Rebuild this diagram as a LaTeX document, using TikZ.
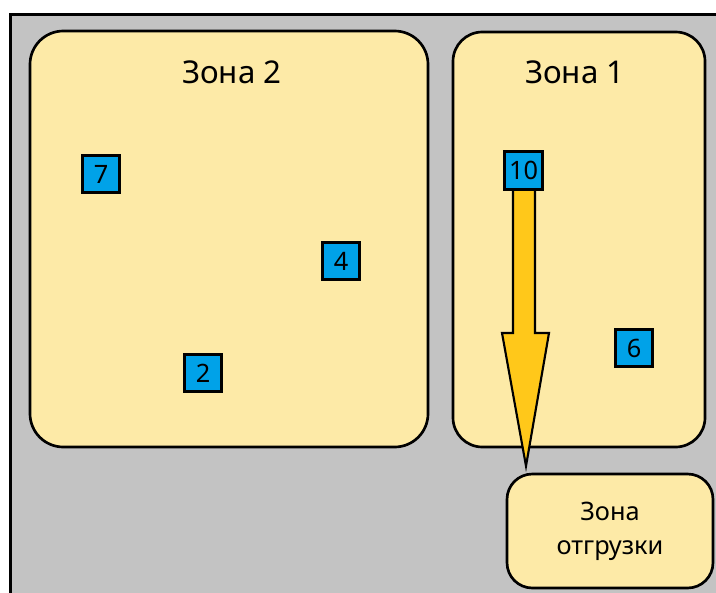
\documentclass[tikz,border=0pt]{standalone}
\usepackage{fontspec}
\setmainfont{Noto Sans}
\usetikzlibrary{calc}
\definecolor{bggray}{HTML}{C3C3C3}
\definecolor{zonefill}{HTML}{FDEAA7}
\definecolor{boxblue}{HTML}{00A2E8}
\definecolor{arrowgold}{HTML}{FFC81A}
\tikzset{
  zonebox/.style={draw=black, line width=2pt, fill=zonefill, inner sep=0pt},
  zonetitle/.style={font=\fontsize{23.5}{28}\selectfont, anchor=base, inner sep=0pt},
  itembox/.style={draw=black, line width=2.2pt, fill=boxblue, inner sep=0pt,
    minimum size=28pt, font=\fontsize{19}{21}\selectfont},
  bigarrow/.style={draw=black, line width=1.6pt, fill=arrowgold, line join=miter}
}
\begin{document}
\begin{tikzpicture}[x=0.75pt, y=-0.75pt]
\useasboundingbox (0,0) rectangle (716,592);
\begin{scope}
\clip (0,0) rectangle (716,592);
\draw[line width=2.4pt, fill=bggray] (10.5,14.5) rectangle (740,620);
\end{scope}
% zones
\node[zonebox, rounded corners=25pt, minimum width={398*0.75pt}, minimum height={416*0.75pt}] (zone2) at (229,239) {};
\node[zonebox, rounded corners=22pt, minimum width={252*0.75pt}, minimum height={415*0.75pt}] (zone1) at (579,239.5) {};
\node[zonebox, rounded corners=19pt, minimum width={206*0.75pt}, minimum height={114*0.75pt},
  align=center, font=\fontsize{19}{25.5}\selectfont] (ship) at (610,531) {Зона\\отгрузки};
\node[zonetitle] (t2) at (232,83) {Зона 2};
\node[zonetitle] (t1) at (575,83) {Зона 1};
% items
\node[itembox] (n7) at (101,174) {7};
\node[itembox] (n4) at (341,261) {4};
\node[itembox] (n2) at (203,373) {2};
\node[itembox] (n6) at (634,348) {6};
% arrow from item 10 toward shipping zone
\coordinate (tip) at (526,466);
\draw[bigarrow] (513,185) -- (535,185) -- (535,333) -- (549,333) -- (tip) -- (502,333) -- (513,333) -- cycle;
\node[itembox] (n10) at (523.5,170.5) {10};
\end{tikzpicture}
\end{document}
